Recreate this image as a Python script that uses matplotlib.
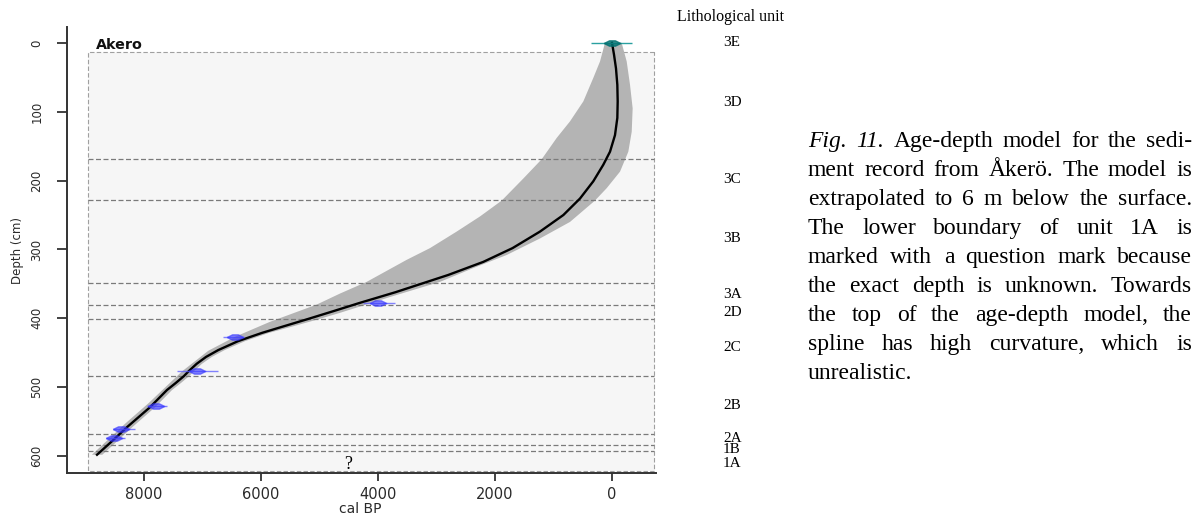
import numpy as np
import matplotlib.pyplot as plt
from matplotlib.patches import Rectangle
from matplotlib.path import Path
from matplotlib.transforms import IdentityTransform, blended_transform_factory

# age-depth model: depth (cm) vs modelled age (cal BP)
depth = [0, 17, 37, 61, 85, 109, 134, 158, 177, 201, 226, 250, 274, 298, 318, 337,
         362, 378, 390, 401, 412, 421, 433, 446, 456, 466, 477, 484, 494, 504, 529,
         558, 577, 598]
age_mean = [0, -34, -68, -91, -97, -91, -51, 34, 149, 320, 547, 832, 1231, 1700, 2200, 2800,
            3700, 4330, 4780, 5200, 5630, 5980, 6390, 6730, 6940, 7100, 7240, 7320, 7460, 7607, 7897,
            8291, 8530, 8803]

# 95% envelope: older (left) and younger (right) edges
old_depth = [0, 27, 51, 85, 114, 138, 169, 197, 229, 252, 274, 298, 315, 347, 364, 380,
             405, 427, 447, 477, 523, 552, 598]
old_age = [120, 205, 320, 490, 718, 945, 1202, 1516, 1885, 2256, 2655, 3111, 3509, 4193, 4650, 5048,
           5846, 6450, 6900, 7350, 7920, 8310, 8890]
young_depth = [0, 27, 61, 95, 129, 158, 187, 211, 229, 260, 284, 308, 327, 347, 369, 392,
               402, 412, 421, 433, 446, 456, 466, 477, 484, 494, 504, 529, 558, 577, 598]
young_age = [-165, -251, -308, -353, -337, -279, -137, 91, 291, 718, 1231, 1800, 2371, 2940, 3795, 4650,
             5048, 5470, 5860, 6270, 6620, 6840, 7010, 7150, 7230, 7370, 7520, 7810, 8200, 8440, 8713]

# calibrated dates: median age, depth and 95% range
date_age = [3995, 6444, 7099, 7790, 8400, 8510]
date_depth = [377, 427, 477, 527, 560, 573]
date_lo = [3709, 6291, 6730, 7612, 8154, 8325]
date_hi = [4256, 6655, 7441, 7954, 8535, 8650]
surface_age, surface_depth, surface_lo, surface_hi = 0, 0, -337, 364

# lithological units
unit_bounds = [168, 228, 349, 380, 401, 484, 568, 584, 593]
core_top, core_bottom = 13, 622
core_old, core_young = 8950, -720
unit_names = ['3E', '3D', '3C', '3B', '3A', '2D', '2C', '2B', '2A', '1B', '1A']
unit_label_depth = [0, 87, 199, 284, 366, 392, 442, 527, 574, 591, 610]

caption = [
    "*Fig.* *11.* Age-depth model for the sedi-",
    "ment record from Åkerö. The model is",
    "extrapolated to 6 m below the surface.",
    "The lower boundary of unit 1A is",
    "marked with a question mark because",
    "the exact depth is unknown. Towards",
    "the top of the age-depth model, the",
    "spline has high curvature, which is",
    "unrealistic.",
]

W, H = 1199, 517
fig = plt.figure(figsize=(W / 100, H / 100), dpi=100)
ax = fig.add_axes([67 / W, 44 / H, 589 / W, 446 / H])

ax.add_patch(Rectangle((core_young, core_top), core_old - core_young, core_bottom - core_top,
                       facecolor='#f6f6f6', edgecolor='#a0a0a0', lw=0.8, ls=(0, (4, 2)), zorder=0))
ax.fill(np.concatenate([old_age, young_age[::-1]]),
        np.concatenate([old_depth, young_depth[::-1]]),
        color='#b4b4b4', lw=0, zorder=1)
ax.hlines(unit_bounds, core_old, core_young, colors='#7a7a7a', lw=0.9,
          linestyles=(0, (4, 2)), zorder=2)
ax.plot(age_mean, depth, color='black', lw=1.7, zorder=3)

# flattened spindle for the calibrated distributions
blob = Path([(-1, 0), (-0.35, 0.32), (0.35, 0.32), (1, 0), (0.35, -0.32), (-0.35, -0.32), (-1, 0)])
ax.hlines(date_depth, date_lo, date_hi, colors='#5a5aff', lw=1.0, alpha=0.75, zorder=4)
ax.plot(date_age, date_depth, ls='none', marker=blob, ms=12, color='#3434ff', alpha=0.6, zorder=5)
ax.hlines([surface_depth], surface_lo, surface_hi, colors='#2aa0a0', lw=1.0, zorder=4)
ax.plot([surface_age], [surface_depth], ls='none', marker=blob, ms=12, color='#007070',
        alpha=0.8, zorder=5)

ax.text(8820, 3, 'Akero', fontweight='bold', fontsize=10.3, va='center', color='#111')
ax.text(4513, 612, '?', family='Liberation Serif', fontsize=13, ha='center', va='center')

ax.set_xlim(9316, -752)
ax.set_ylim(624.5, -23)
ax.set_xticks([8000, 6000, 4000, 2000, 0])
ax.set_yticks(range(0, 601, 100))
for side in ['top', 'right']:
    ax.spines[side].set_visible(False)
for side in ['left', 'bottom']:
    ax.spines[side].set_linewidth(1.4)
    ax.spines[side].set_color('#333')
ax.tick_params(width=1.3, color='#333', labelcolor='#2a2a2a')
ax.tick_params(axis='x', length=6, labelsize=10.5, pad=4)
ax.tick_params(axis='y', length=7, labelsize=8.5, pad=10, labelrotation=90)
for lbl in ax.get_yticklabels():
    lbl.set_va('center')

fig.text(360 / W, 1 / H, 'cal BP', fontsize=10, ha='center', va='bottom', color='#2a2a2a')
fig.text(18 / W, 1 - 250 / H, 'Depth (cm)', fontsize=8.5, rotation=90,
         ha='center', va='center', color='#2a2a2a')

# unit labels beside the core
serif = 'Liberation Serif'
fig.text(677 / W, 1 - 17 / H, 'Lithological unit', family=serif, fontsize=11.5, va='center')
lab_tr = blended_transform_factory(fig.transFigure, ax.transData)
for name, d in zip(unit_names, unit_label_depth):
    ax.text(723 / W, d, name, transform=lab_tr, family=serif, fontsize=11,
            va='center', clip_on=False)

# justified caption block
renderer = fig.canvas.get_renderer()
left, right = 808, 1192
cap_size = 17
space = 0.25 * cap_size * 100 / 72
for i, line in enumerate(caption):
    baseline = H - (147 + 29 * i)
    words = []
    for w in line.split(' '):
        italic = w.startswith('*')
        t = fig.text(0, baseline, w.strip('*'), transform=IdentityTransform(),
                     family=serif, fontsize=cap_size, va='baseline',
                     style='italic' if italic else 'normal')
        words.append(t)
    widths = [t.get_window_extent(renderer).width for t in words]
    if i < len(caption) - 1 and len(words) > 1:
        gap = (right - left - sum(widths)) / (len(words) - 1)
    else:
        gap = space
    x = left
    for t, wd in zip(words, widths):
        t.set_x(x)
        x += wd + gap

fig.savefig('out.png', dpi=100)
